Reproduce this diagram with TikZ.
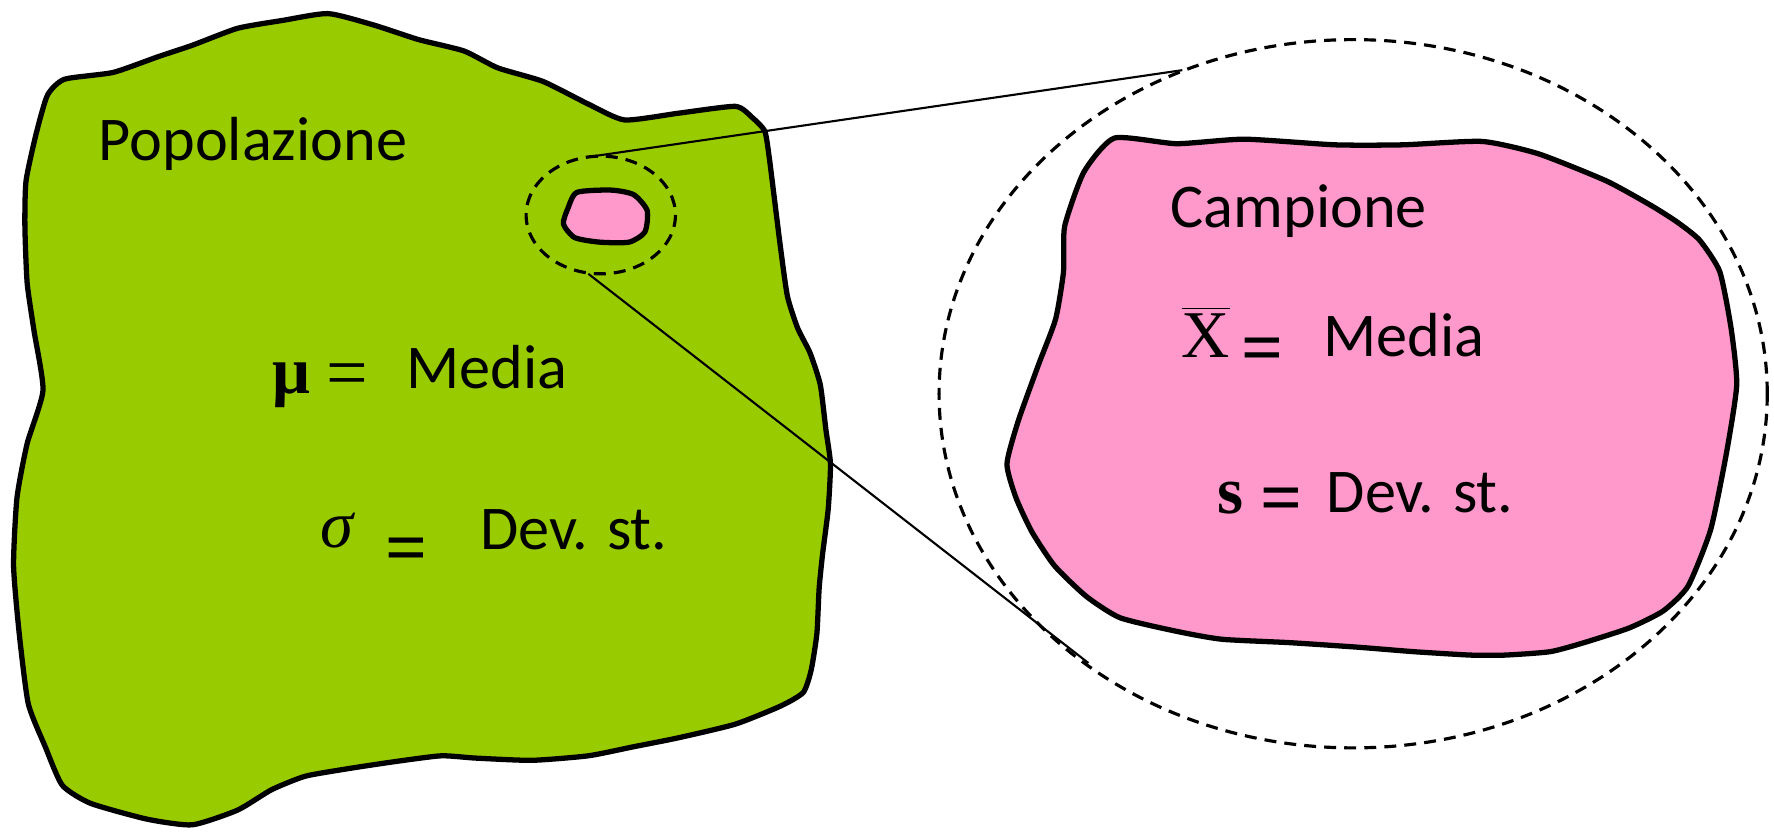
\documentclass[tikz,border=0pt]{standalone}
\usepackage{fontspec}
\setmainfont{Carlito}
\newfontfamily\tms{Liberation Serif}
\begin{document}
\begin{tikzpicture}[x=0.01cm,y=-0.01cm,
  blob/.style={draw=black,line width=1.5pt,line join=round},
  dashring/.style={draw=black,line width=0.9pt,dash pattern=on 3.4pt off 2.3pt},
  zoomline/.style={draw=black,line width=0.6pt},
  lbl/.style={anchor=base west,inner sep=0pt,font=\fontsize{17.7}{20}\selectfont},
  sym/.style={anchor=base west,inner sep=0pt,font=\tms\fontsize{19}{21}\selectfont},
  eqsign/.style={anchor=base west,inner sep=0pt,font=\tms\bfseries\fontsize{21}{23}\selectfont}]
\useasboundingbox (0,0) rectangle (1774,832);
\definecolor{popgreen}{HTML}{99CC00}
\definecolor{sampink}{HTML}{FF99CC}
\begin{scope}[scale=1.1314]
% population
\path[blob,fill=popgreen] plot[smooth cycle,tension=0.35] coordinates {
(57,70) (100,64) (140,50) (170,40) (210,25) (250,18) (290,12) (330,22) (370,35)
(410,45) (440,60) (480,72) (520,92) (552,106) (600,100) (650,94) (665,104) (676,116)
(680,140) (685,180) (690,220) (696,262) (705,290) (716,312) (725,340) (730,380)
(734,410) (732,450) (727,490) (724,520) (722,560) (717,592) (710,612) (690,624)
(650,640) (600,652) (560,660) (520,668) (470,672) (420,670) (390,668) (350,673)
(310,679) (270,686) (240,698) (210,716) (170,729) (130,724) (80,710) (55,694)
(40,660) (25,622) (17,560) (12,500) (15,440) (24,392) (38,345) (30,292) (24,250)
(22,200) (23,160) (32,118) (42,84)};
% sample (big)
\path[blob,fill=sampink] plot[smooth cycle,tension=0.35] coordinates {
(985,122) (1040,127) (1100,123) (1180,128) (1240,128) (1310,125) (1360,136)
(1420,160) (1460,182) (1482,196) (1502,212) (1520,240) (1530,290) (1535,340)
(1526,400) (1512,468) (1492,518) (1470,540) (1440,555) (1400,568) (1370,576)
(1330,579) (1300,579) (1250,576) (1200,572) (1140,568) (1080,565) (1040,558)
(990,546) (960,527) (932,500) (912,470) (898,440) (890,410) (900,372) (918,322)
(933,282) (940,240) (941,200) (958,152)};
% sample (small)
\path[blob,fill=sampink] plot[smooth cycle,tension=0.4] coordinates {
(510,170) (540,168) (560,172) (572,186) (570,205) (556,214) (530,214) (508,210) (498,198) (502,184)};
% rings
\draw[dashring] (531,190) ellipse [x radius=66,y radius=52];
\draw[dashring] (1196,348) ellipse [x radius=366,y radius=313];
\coordinate (a1) at (518,139);
\coordinate (a2) at (520,242);
\coordinate (b1) at (1045,62);
\coordinate (b2) at (962,586);
\end{scope}
\draw[zoomline] (a1) -- (b1);
\draw[zoomline] (a2) -- (b2);
% texts
\node[lbl] (pop) at (98,160) {Popolazione};
\node[lbl] (camp) at (1170,227) {Campione};
\node[sym] (mu) at (272,393) {\bfseries μ};
\node[sym,font=\tms\fontsize{21}{23}\selectfont] (eq0) at (326,397) {=};
\node[lbl] (med1) at (406,388) {Media};
\node[sym] (sig) at (320,547) {\itshape σ};
\node[eqsign] (eq1) at (385,572) {=};
\node[lbl] (dev1) at (480,549) {Dev. st.};
\node[sym] (xb) at (1181,357) {$\overline{\hbox{\tms\fontsize{19}{21}\selectfont X}}$};
\node[eqsign] (eq2) at (1241,372) {=};
\node[lbl] (med2) at (1323,356) {Media};
\node[sym] (s) at (1217,513) {\bfseries s};
\node[eqsign] (eq3) at (1260,522) {=};
\node[lbl] (dev2) at (1326,512) {Dev. st.};
\end{tikzpicture}
\end{document}
